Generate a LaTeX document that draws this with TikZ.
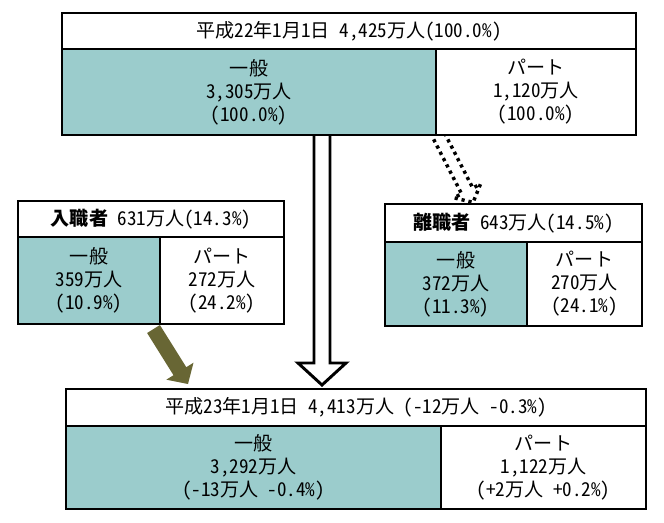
\documentclass[tikz,border=0pt]{standalone}
\usepackage{fontspec}
\setmainfont[RawFeature={+hwid}]{Noto Sans CJK JP}
\definecolor{ippan}{RGB}{155,204,204}
\definecolor{arrowolive}{RGB}{104,102,52}
\begin{document}
\begin{tikzpicture}[x=0.75pt, y=-0.75pt,
    cell/.style={draw, line width=1.7pt, inner sep=0pt, align=center,
      font=\fontsize{14.3}{17.25}\selectfont},
    ippancell/.style={cell, fill=ippan},
    partcell/.style={cell, fill=white}]
  \useasboundingbox (0,0) rectangle (664,522);

  % arrows first, boxes cover their tails
  \draw[line width=2.6pt, dash pattern=on 2.4pt off 2.9pt]
    (444.6,133.1) -- (472.8,188.0) -- (480.5,184.0) -- (473.1,202.4)
    -- (453.9,197.8) -- (461.6,193.8) -- (433.4,138.9);
  \fill[arrowolive] (159.9,325.0) -- (186.3,367.2) -- (193.5,362.7) -- (188,384)
    -- (166.3,379.7) -- (173.5,375.2) -- (147.1,333.0) -- cycle;
  \draw[line width=2.2pt, fill=white, miter limit=20]
    (314,135) -- (314,363) -- (298,363) -- (322,385) -- (346,363) -- (330,363) -- (330,135);

  % 平成22年
  \node[partcell, minimum width=574*0.75pt, minimum height=36*0.75pt] (toph) at (349,31)
    {平成22年1月1日　4,425万人(100.0\%)};
  \node[ippancell, minimum width=374*0.75pt, minimum height=86*0.75pt] (topg) at (249,92)
    {一般\\3,305万人\\(100.0\%)};
  \node[partcell, minimum width=200*0.75pt, minimum height=86*0.75pt] (topp) at (536,92)
    {パート\\1,120万人\\(100.0\%)};

  % 入職者
  \node[partcell, minimum width=266*0.75pt, minimum height=36*0.75pt] (inh) at (151,219)
    {\textbf{入職者} 631万人(14.3\%)};
  \node[ippancell, minimum width=142*0.75pt, minimum height=87*0.75pt] (ing) at (89,280.5)
    {一般\\359万人\\(10.9\%)};
  \node[partcell, minimum width=124*0.75pt, minimum height=87*0.75pt] (inp) at (222,280.5)
    {パート\\272万人\\(24.2\%)};

  % 離職者
  \node[partcell, minimum width=257*0.75pt, minimum height=38*0.75pt] (outh) at (513.5,223)
    {\textbf{離職者} 643万人(14.5\%)};
  \node[ippancell, minimum width=142*0.75pt, minimum height=84*0.75pt] (outg) at (456,284)
    {一般\\372万人\\(11.3\%)};
  \node[partcell, minimum width=115*0.75pt, minimum height=84*0.75pt] (outp) at (584.5,284)
    {パート\\270万人\\(24.1\%)};

  % 平成23年
  \node[partcell, minimum width=580*0.75pt, minimum height=37*0.75pt] (both) at (356,407.5)
    {平成23年1月1日　4,413万人 (-12万人 -0.3\%)};
  \node[ippancell, minimum width=375*0.75pt, minimum height=83*0.75pt] (botg) at (253.5,467.5)
    {一般\\3,292万人\\(-13万人 -0.4\%)};
  \node[partcell, minimum width=205*0.75pt, minimum height=83*0.75pt] (botp) at (543.5,467.5)
    {パート\\1,122万人\\(+2万人 +0.2\%)};
\end{tikzpicture}
\end{document}
